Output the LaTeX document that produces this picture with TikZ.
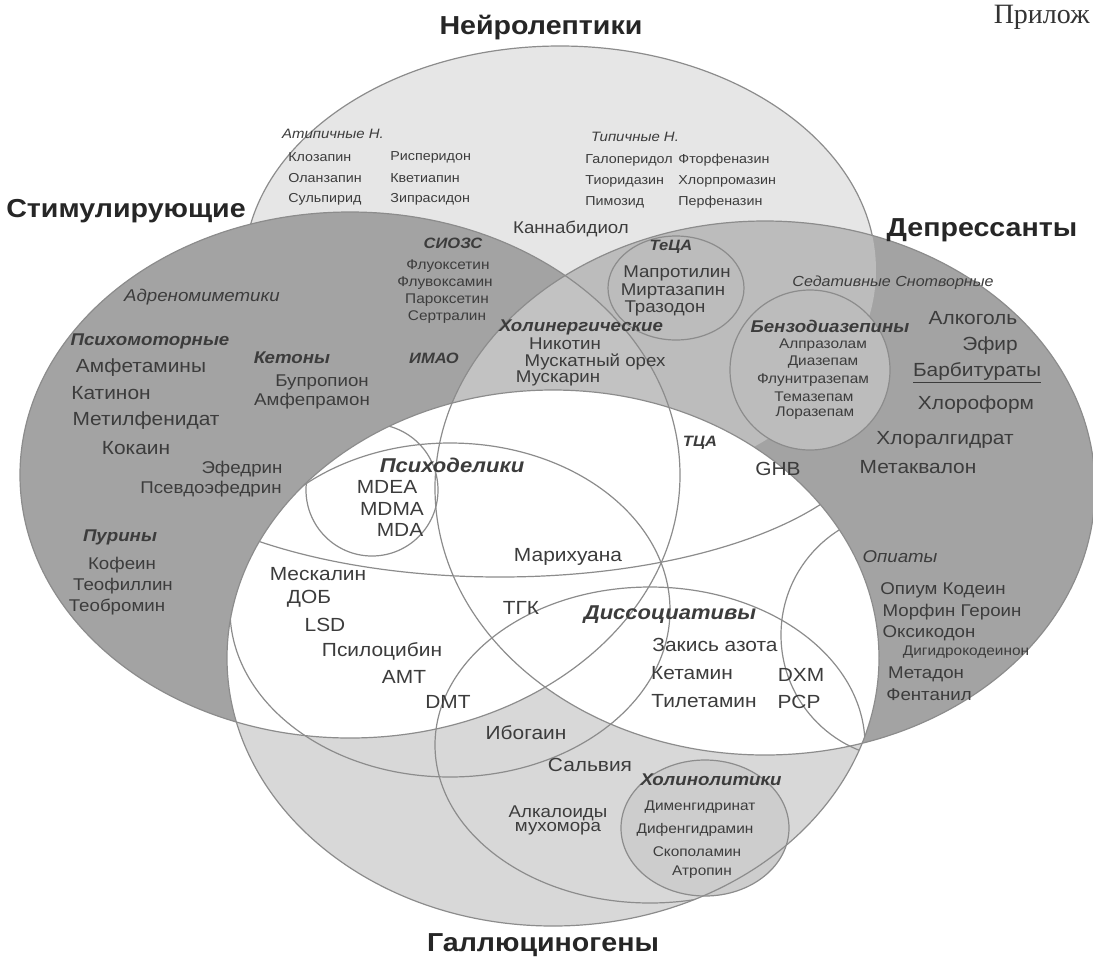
\documentclass[tikz,border=0pt]{standalone}
\usepackage{fontspec}
\setmainfont{Liberation Sans}[FakeStretch=1.1]
\newfontfamily\pagefont{Liberation Serif}
\definecolor{neurofill}{HTML}{E6E6E6}
\definecolor{darkfill}{HTML}{A3A3A3}
\definecolor{ndfill}{HTML}{BCBCBC}
\definecolor{midfill}{HTML}{C2C2C2}
\definecolor{halfill}{HTML}{D8D8D8}
\definecolor{cholfill}{HTML}{CDCDCD}
\definecolor{linecol}{HTML}{8C8C8C}
\definecolor{txt}{HTML}{3C3C3C}
\tikzset{
  every node/.style={text=txt, inner sep=0pt},
  ttl/.style={font=\bfseries\fontsize{13}{14}\selectfont, text=black!85},
  grp/.style={font=\bfseries\itshape\fontsize{8.5}{9}\selectfont},
  grpbig/.style={font=\bfseries\itshape\fontsize{10}{11}\selectfont},
  grpsm/.style={font=\bfseries\itshape\fontsize{7.5}{8}\selectfont},
  sub/.style={font=\itshape\fontsize{8.5}{9}\selectfont},
  subsm/.style={font=\itshape\fontsize{6.8}{7}\selectfont},
  lg/.style={font=\fontsize{9.5}{10}\selectfont},
  md/.style={font=\fontsize{8.5}{9}\selectfont},
  sm/.style={font=\fontsize{6.5}{7}\selectfont},
  xs/.style={font=\fontsize{7}{8}\selectfont},
  bigline/.style={draw=linecol, line width=0.6pt},
  setline/.style={draw=linecol, line width=0.6pt}
}
% the four big sets
\newcommand{\neuroE}{(560,270) ellipse [x radius=316, y radius=224]}
\newcommand{\stimE}{(350,475) ellipse [x radius=330, y radius=263]}
\newcommand{\depE}{(765,488) ellipse [x radius=330, y radius=267]}
\newcommand{\halE}{(553,658) ellipse [x radius=326, y radius=268]}
% subsets
\newcommand{\psyE}{(450,610) ellipse [x radius=220, y radius=167]}
\newcommand{\mdmaE}{(372,490) circle [radius=66]}
\newcommand{\wideE}{(500,420) ellipse [x radius=380, y radius=157]}
\newcommand{\dissE}{(650,745) ellipse [x radius=215, y radius=158]}
\newcommand{\opiE}{(905,635) circle [radius=124]}
\newcommand{\cholE}{(705,828) ellipse [x radius=84, y radius=68]}
\newcommand{\tecaE}{(676,288) ellipse [x radius=68, y radius=52]}
\newcommand{\benzoE}{(810,370) circle [radius=80]}
\begin{document}
\begin{tikzpicture}[x=0.5pt,y=-0.5pt]
\useasboundingbox (0,0) rectangle (1093,965);
\clip (0,0) rectangle (1093,965);
\fill[white] (0,0) rectangle (1093,965);

% fills
\fill[neurofill] \neuroE;
\draw[bigline] \neuroE;
\fill[darkfill] \stimE;
\fill[darkfill] \depE;
\begin{scope}
  \clip \neuroE;
  \fill[ndfill] \depE;
\end{scope}
\begin{scope}
  \clip \stimE;
  \fill[midfill] \depE;
\end{scope}
\begin{scope}
  \clip \depE;
  \fill[ndfill] \benzoE;
\end{scope}
\fill[halfill] \halE;
\begin{scope}
  \clip \halE;
  \fill[white] \stimE;
  \fill[white] \depE;
\end{scope}
\fill[cholfill] \cholE;

% outlines
\draw[bigline] \stimE;
\draw[bigline] \depE;
\draw[bigline] \halE;
\draw[setline] \tecaE;
\draw[setline] \benzoE;
\draw[setline] \cholE;
\begin{scope}
  \clip \halE;
  \draw[setline] \psyE;
  \draw[setline] \mdmaE;
  \draw[setline] \wideE;
  \draw[setline] \dissE;
  \draw[setline] \opiE;
\end{scope}

% titles
\node[anchor=east, font=\pagefont\fontsize{14}{15}\selectfont, text=black!80] (prilozh) at (1090,17) {Прилож};
\node[ttl] (t-neuro) at (541,28) {Нейролептики};
\node[ttl] (t-stim) at (126,211) {Стимулирующие};
\node[ttl] (t-dep) at (982,230) {Депрессанты};
\node[ttl] (t-hal) at (543,945) {Галлюциногены};

% neuroleptics
\node[subsm] (atyp) at (333,134) {Атипичные Н.};
\node[sm, anchor=west] (kloz) at (288,157) {Клозапин};
\node[sm, anchor=west] (olan) at (288,178) {Оланзапин};
\node[sm, anchor=west] (sulp) at (288,199) {Сульпирид};
\node[sm, anchor=west] (risp) at (390,157) {Рисперидон};
\node[sm, anchor=west] (kvet) at (390,178) {Кветиапин};
\node[sm, anchor=west] (zipr) at (390,199) {Зипрасидон};
\node[subsm] (typ) at (635,137) {Типичные Н.};
\node[sm, anchor=west] (galo) at (585,160) {Галоперидол};
\node[sm, anchor=west] (tior) at (585,181) {Тиоридазин};
\node[sm, anchor=west] (pimo) at (585,202) {Пимозид};
\node[sm, anchor=west] (ftor) at (678,160) {Фторфеназин};
\node[sm, anchor=west] (hlorp) at (678,181) {Хлорпромазин};
\node[sm, anchor=west] (perf) at (678,202) {Перфеназин};
\node[md] (kannab) at (571,229) {Каннабидиол};

% stimulants
\node[grpsm] (sioz) at (453,243) {СИОЗС};
\node[xs] (fluok) at (448,266) {Флуоксетин};
\node[xs] (fluv) at (445,283) {Флувоксамин};
\node[xs] (parok) at (447,300) {Пароксетин};
\node[xs] (sertr) at (447,317) {Сертралин};
\node[sub] (adren) at (202,297) {Адреномиметики};
\node[grp] (psmot) at (150,341) {Психомоторные};
\node[lg] (amfet) at (141,368) {Амфетамины};
\node[lg] (katin) at (111,393) {Катинон};
\node[lg] (metil) at (146,421) {Метилфенидат};
\node[lg] (kokain) at (136,448) {Кокаин};
\node[grp] (keton) at (292,358) {Кетоны};
\node[md] (bupr) at (322,382) {Бупропион};
\node[md] (amfep) at (312,401) {Амфепрамон};
\node[grpsm] (imao) at (434,358) {ИМАО};
\node[md] (efedr) at (242,469) {Эфедрин};
\node[md] (psefedr) at (211,489) {Псевдоэфедрин};
\node[grp] (purin) at (120,537) {Пурины};
\node[md] (kofein) at (122,565) {Кофеин};
\node[md] (teofil) at (123,586) {Теофиллин};
\node[md] (teobr) at (117,607) {Теобромин};

% stimulants and depressants
\node[grpsm] (teca) at (671,247) {ТеЦА};
\node[md] (mapr) at (677,273) {Мапротилин};
\node[md] (mirt) at (673,291) {Миртазапин};
\node[md] (traz) at (665,308) {Тразодон};
\node[grp] (holin) at (581,327) {Холинергические};
\node[md] (nikot) at (565,344) {Никотин};
\node[md] (muskat) at (595,362) {Мускатный орех};
\node[md] (muskar) at (558,378) {Мускарин};
\node[grpsm] (tca) at (700,443) {ТЦА};

% depressants
\node[font=\itshape\fontsize{7.3}{8}\selectfont] (sedat) at (893,283) {Седативные Снотворные};
\node[grp] (benzo) at (830,326) {Бензодиазепины};
\node[xs] (alpr) at (823,345) {Алпразолам};
\node[xs] (diaz) at (823,362) {Диазепам};
\node[xs] (flun) at (813,380) {Флунитразепам};
\node[xs] (temaz) at (814,397) {Темазепам};
\node[xs] (loraz) at (815,413) {Лоразепам};
\node[lg] (alkog) at (973,318) {Алкоголь};
\node[lg] (efir) at (990,346) {Эфир};
\node[lg] (barb) at (977,373) {\underline{Барбитураты}};
\node[lg] (hlorof) at (976,405) {Хлороформ};
\node[lg] (hloral) at (945,440) {Хлоралгидрат};
\node[lg] (metakv) at (918,467) {Метаквалон};
\node[lg] (ghb) at (778,469) {GHB};

% hallucinogens
\node[grpbig] (psyhod) at (452,465) {Психоделики};
\node[lg] (mdea) at (387,487) {MDEA};
\node[lg] (mdma) at (392,509) {MDMA};
\node[lg] (mda) at (400,530) {MDA};
\node[lg] (marih) at (568,557) {Марихуана};
\node[lg] (meskal) at (318,574) {Мескалин};
\node[lg] (dob) at (309,599) {ДОБ};
\node[lg] (lsd) at (325,625) {LSD};
\node[lg] (psiloc) at (382,651) {Псилоцибин};
\node[lg] (amt) at (404,677) {АМТ};
\node[lg] (dmt) at (448,702) {DMT};
\node[lg] (tgk) at (521,608) {ТГК};
\node[grpbig] (dissoc) at (670,615) {Диссоциативы};
\node[lg] (zakis) at (715,645) {Закись азота};
\node[lg] (ketam) at (692,673) {Кетамин};
\node[lg] (tilet) at (704,701) {Тилетамин};
\node[lg] (dxm) at (801,675) {DXM};
\node[lg] (pcp) at (799,702) {PCP};
\node[sub] (opiat) at (900,557) {Опиаты};
\node[md] (opium) at (943,590) {Опиум Кодеин};
\node[md] (morf) at (952,612) {Морфин Героин};
\node[md] (oksik) at (929,633) {Оксикодон};
\node[xs] (digidr) at (966,652) {Дигидрокодеинон};
\node[md] (metad) at (926,674) {Метадон};
\node[md] (fent) at (929,695) {Фентанил};
\node[lg] (ibog) at (526,733) {Ибогаин};
\node[lg] (salv) at (590,765) {Сальвия};
\node[grp] (holinol) at (711,780) {Холинолитики};
\node[md] (alkal) at (558,813) {Алкалоиды};
\node[md] (muhom) at (558,829) {мухомора};
\node[xs] (dimen) at (700,807) {Дименгидринат};
\node[xs] (difen) at (695,830) {Дифенгидрамин};
\node[xs] (skop) at (697,852) {Скополамин};
\node[xs] (atrop) at (702,872) {Атропин};
\end{tikzpicture}
\end{document}
